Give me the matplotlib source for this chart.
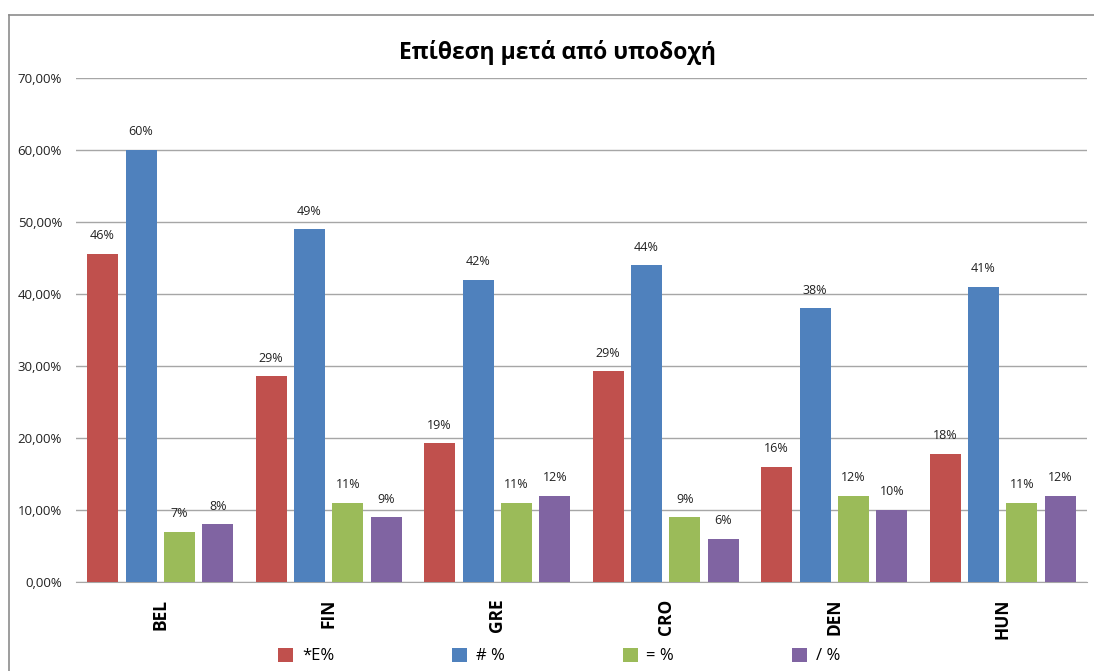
import matplotlib.pyplot as plt
import numpy as np
from matplotlib.lines import Line2D
from matplotlib.ticker import FuncFormatter

plt.rcParams['font.family'] = ['Open Sans', 'DejaVu Sans']

countries = ['BEL', 'FIN', 'GRE', 'CRO', 'DEN', 'HUN']
series_names = ['*E%', '# %', '= %', '/ %']
e_pct = [45.6, 28.6, 19.3, 29.3, 16.0, 17.8]
hash_pct = [60, 49, 42, 44, 38, 41]
eq_pct = [7, 11, 11, 9, 12, 11]
slash_pct = [8, 9, 12, 6, 10, 12]
colors = ['#C0504D', '#4F81BD', '#9BBB59', '#8064A2']

W, H = 1094, 671
fig = plt.figure(figsize=(W / 100, H / 100), dpi=100)

# outer chart frame (left and top edges)
fig.add_artist(Line2D([9 / W, 9 / W], [0, 1 - 15 / H], color='#8c8c8c', lw=1.2))
fig.add_artist(Line2D([9 / W, 1.02], [1 - 15 / H, 1 - 15 / H], color='#8c8c8c', lw=1.2))

ax = fig.add_axes([76 / W, (H - 582) / H, (1087 - 76) / W, (582 - 78) / H])

x = np.arange(len(countries))
step = 0.228
width = 0.184
for i, (vals, name) in enumerate(zip([e_pct, hash_pct, eq_pct, slash_pct], series_names)):
    pos = x + (i - 1.5) * step
    bars = ax.bar(pos, vals, width, color=colors[i], label=name, zorder=3)
    for b, v in zip(bars, vals):
        ax.text(b.get_x() + b.get_width() / 2, v + 1.6, '%d%%' % round(v),
                ha='center', va='bottom', fontsize=9, color='#222222')

ax.set_xlim(-0.5, len(countries) - 0.5)
ax.set_ylim(0, 70)
ax.set_yticks(np.arange(0, 71, 10))
ax.yaxis.set_major_formatter(FuncFormatter(lambda v, p: ('%.2f%%' % v).replace('.', ',')))
ax.grid(axis='y', color='#a6a6a6', lw=1, zorder=0)
ax.tick_params(axis='y', length=0, labelsize=9.5, pad=10, labelcolor='#222222')
ax.set_xticks(x)
ax.set_xticklabels(countries, rotation=90, fontsize=12.5, fontweight='bold')
ax.tick_params(axis='x', length=0, pad=12)
for s in ['left', 'right', 'top']:
    ax.spines[s].set_visible(False)
ax.spines['bottom'].set_color('#a6a6a6')

ax.set_title('Επίθεση μετά από υποδοχή', fontsize=16.5, fontweight='bold', pad=14, x=0.476)

ax.legend(loc='center', bbox_to_anchor=(0.478, -0.147), ncol=4, frameon=False,
          fontsize=12, handlelength=0.9, handleheight=0.9, columnspacing=7.1,
          handletextpad=0.5)

fig.savefig('out.png', dpi=100)
